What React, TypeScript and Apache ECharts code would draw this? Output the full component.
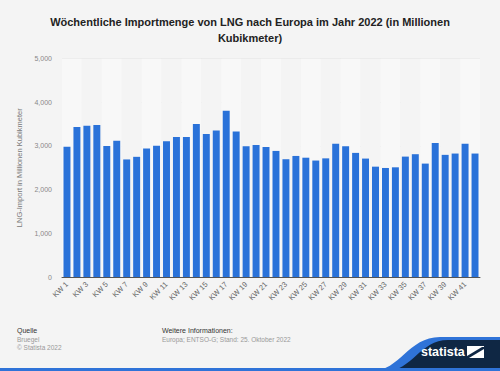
import React, { useEffect, useRef } from "react";
import * as echarts from "echarts";

const categories: string[] = Array.from({ length: 42 }, (_, i) => `KW ${i + 1}`);
const values: number[] = [
  2980, 3430, 3460, 3480, 3000, 3120, 2690, 2750, 2940, 3005,
  3105, 3205, 3205, 3500, 3270, 3350, 3805, 3330, 2990, 3020,
  2975, 2885, 2695, 2770, 2730, 2665, 2715, 3050, 2990, 2840,
  2710, 2525, 2495, 2510, 2755, 2810, 2595, 3065, 2795, 2825,
  3050, 2825,
];
const yTicks: number[] = [0, 1000, 2000, 3000, 4000, 5000];

const titleText = "Wöchentliche Importmenge von LNG nach Europa im Jahr 2022 (in Millionen\nKubikmeter)";
const yAxisName = "LNG-Import in Millionen Kubikmeter";

echarts.graphic.registerShape(
  "waveBlue",
  echarts.graphic.extendPath("M 372 371 C 400 371, 408 337, 440 337 L 500 337 L 500 371 Z", {})
);
echarts.graphic.registerShape(
  "waveNavy",
  echarts.graphic.extendPath("M 386 371 C 412 371, 420 340, 448 340 L 500 340 L 500 371 Z", {})
);

export default function App() {
  const ref = useRef<HTMLDivElement>(null);
  useEffect(() => {
    if (!ref.current) return;
    const chart = echarts.init(ref.current, null, { renderer: "svg" });
    const font = "'Liberation Sans', Arial, sans-serif";
    chart.setOption({
      animation: false,
      backgroundColor: "#f4f4f4",
      textStyle: { fontFamily: font },
      title: {
        text: titleText,
        left: "center",
        top: 9,
        textStyle: { fontSize: 11, fontWeight: "bold", color: "#222", lineHeight: 16, fontFamily: font },
      },
      grid: { left: 62, right: 20, top: 58.5, bottom: 94 },
      xAxis: {
        type: "category",
        data: categories,
        axisLine: { lineStyle: { color: "#555", width: 1 } },
        axisTick: { show: false },
        axisLabel: { interval: 1, rotate: 45, fontSize: 7.5, color: "#666", margin: 6, fontFamily: font },
        splitArea: { show: true, interval: 1, areaStyle: { color: ["#f8f8f8", "#f4f4f4"] } },
      },
      yAxis: {
        type: "value",
        min: yTicks[0],
        max: yTicks[yTicks.length - 1],
        interval: 1000,
        name: yAxisName,
        nameLocation: "middle",
        nameGap: 33,
        nameTextStyle: { fontSize: 7.5, color: "#777", fontFamily: font },
        axisLabel: {
          fontSize: 7,
          color: "#888",
          margin: 10,
          formatter: (v: number) => v.toLocaleString("en-US"),
        },
        splitLine: { lineStyle: { color: "#e2e2e2", width: 1 } },
        axisLine: { show: false },
        axisTick: { show: false },
      },
      series: [
        {
          type: "bar",
          data: values,
          barCategoryGap: "30%",
          itemStyle: { color: "#2a72d9" },
        },
      ],
      graphic: [
        { type: "text", left: 17, top: 327, style: { text: "Quelle", fontSize: 7, fill: "#333", fontFamily: font } },
        { type: "text", left: 17, top: 336, style: { text: "Bruegel", fontSize: 6.5, fill: "#999", fontFamily: font } },
        { type: "text", left: 17, top: 344, style: { text: "© Statista 2022", fontSize: 6.5, fill: "#999", fontFamily: font } },
        { type: "text", left: 162, top: 327, style: { text: "Weitere Informationen:", fontSize: 7, fill: "#333", fontFamily: font } },
        { type: "text", left: 162, top: 336, style: { text: "Europa; ENTSO-G; Stand: 25. Oktober 2022", fontSize: 6.5, fill: "#999", fontFamily: font } },
        { type: "waveBlue", x: 0, y: 0, style: { fill: "#2f73d8" } },
        { type: "waveNavy", x: 0, y: 0, style: { fill: "#0f2744" } },
        { type: "rect", shape: { x: 0, y: 368, width: 500, height: 3 }, style: { fill: "#2f73d8" } },
        { type: "text", x: 421, y: 352, style: { text: "statista", fontSize: 12.5, fontWeight: "bold", fill: "#ffffff", fontFamily: font, verticalAlign: "middle", align: "left" } },
        { type: "rect", shape: { x: 467, y: 346, width: 17, height: 12 }, style: { fill: "#ffffff" } },
        { type: "polygon", shape: { points: [[467, 356], [482, 347], [484, 347], [484, 349], [469, 358], [467, 358]] }, style: { fill: "#0f2744" } },
      ],
    });
    return () => chart.dispose();
  }, []);
  return <div ref={ref} style={{ position: "fixed", left: 0, top: 0, width: 500, height: 371 }} />;
}
